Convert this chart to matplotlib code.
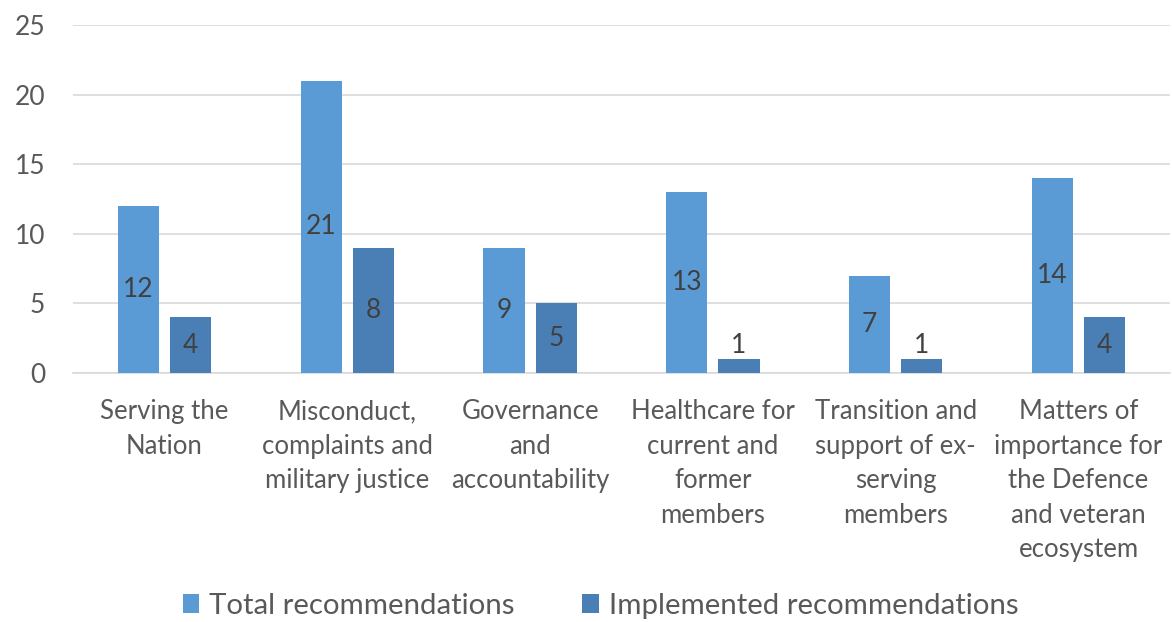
import matplotlib
matplotlib.use("Agg")
import matplotlib.pyplot as plt
import numpy as np

categories = [
    "Serving the\nNation",
    "Misconduct,\ncomplaints and\nmilitary justice",
    "Governance\nand\naccountability",
    "Healthcare for\ncurrent and\nformer\nmembers",
    "Transition and\nsupport of ex-\nserving\nmembers",
    "Matters of\nimportance for\nthe Defence\nand veteran\necosystem",
]
total = [12, 21, 9, 13, 7, 14]
implemented = [4, 9, 5, 1, 1, 4]
total_labels = ["12", "21", "9", "13", "7", "14"]
implemented_labels = ["4", "8", "5", "1", "1", "4"]
yticks = [0, 5, 10, 15, 20, 25]

plt.rcParams['font.family'] = ['Lato', 'DejaVu Sans']
text_color = "#595959"
c_total = "#5B9BD5"
c_impl = "#4A7FB5"

fig = plt.figure(figsize=(11.72, 6.22), dpi=100)
ax = fig.add_axes([73/1172, 1-373/622, (1170-73)/1172, (373-25)/622])

x = np.arange(len(categories))
w = 0.225
gap = 0.06
b1 = ax.bar(x - (w+gap)/2, total, w, color=c_total, label="Total recommendations", zorder=3)
b2 = ax.bar(x + (w+gap)/2, implemented, w, color=c_impl, label="Implemented recommendations", zorder=3)

def add_labels(bars, labels):
    for rect, lab in zip(bars, labels):
        h = rect.get_height()
        cx = rect.get_x() + rect.get_width()/2
        if h < 2.5:
            ax.text(cx, h + 0.05, lab, ha="center", va="bottom",
                    fontsize=19, color="#404040", zorder=4)
        else:
            ax.text(cx, h/2, lab, ha="center", va="center",
                    fontsize=19, color="#404040", zorder=4)

add_labels(b1, total_labels)
add_labels(b2, implemented_labels)

ax.set_xlim(-0.5, len(categories)-0.5)
ax.set_ylim(0, 25)
ax.set_yticks(yticks)
ax.yaxis.grid(True, color="#D9D9D9", linewidth=1.2, zorder=0)
for s in ["top", "right", "left"]:
    ax.spines[s].set_visible(False)
ax.spines["bottom"].set_color("#D9D9D9")
ax.spines["bottom"].set_linewidth(1.2)
ax.tick_params(axis="y", length=0, pad=20, labelsize=19, labelcolor=text_color)
ax.tick_params(axis="x", length=0, pad=19, labelsize=18.5, labelcolor=text_color)
ax.set_xticks(x)
ax.set_xticklabels(categories, linespacing=1.47, va="top")

leg = ax.legend(loc="center", bbox_to_anchor=(0.481, -0.67), ncol=2, frameon=False,
                fontsize=21.2, handlelength=0.55, handleheight=0.6, handletextpad=0.35,
                columnspacing=2.3, labelcolor=text_color)

fig.savefig("out.png", dpi=100)
